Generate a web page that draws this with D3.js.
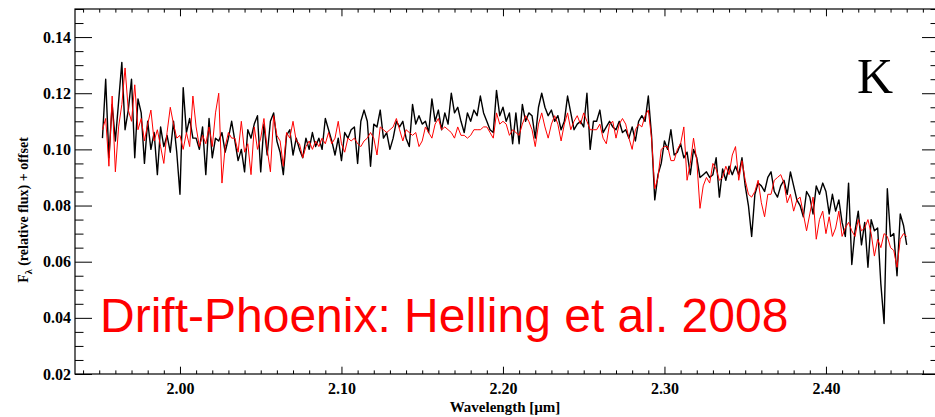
<!DOCTYPE html>
<html>
<head>
<meta charset="utf-8">
<script src="https://cdn.jsdelivr.net/npm/d3@7"></script>
<style>
  html, body { margin: 0; padding: 0; background: #fff; }
  svg { display: block; }
</style>
</head>
<body>
<svg id="chart" width="935" height="417"></svg>
<script>
// Wavelength grid of the K-band spectra [µm]
const wavelengths = [
  1.952,1.954,1.956,1.958,1.960,1.962,1.964,1.966,1.968,1.970,
  1.972,1.974,1.976,1.978,1.980,1.982,1.984,1.986,1.988,1.990,
  1.992,1.994,1.996,1.998,2.000,2.002,2.004,2.006,2.008,2.010,
  2.012,2.014,2.016,2.018,2.020,2.022,2.024,2.026,2.028,2.030,
  2.032,2.034,2.036,2.038,2.040,2.042,2.044,2.046,2.048,2.050,
  2.052,2.054,2.056,2.058,2.060,2.062,2.064,2.066,2.068,2.070,
  2.072,2.074,2.076,2.078,2.080,2.082,2.084,2.086,2.088,2.090,
  2.092,2.094,2.096,2.098,2.100,2.102,2.104,2.106,2.108,2.110,
  2.112,2.114,2.116,2.118,2.120,2.122,2.124,2.126,2.128,2.130,
  2.132,2.134,2.136,2.138,2.140,2.142,2.144,2.146,2.148,2.150,
  2.152,2.154,2.156,2.158,2.160,2.162,2.164,2.166,2.168,2.170,
  2.172,2.174,2.176,2.178,2.180,2.182,2.184,2.186,2.188,2.190,
  2.192,2.194,2.196,2.198,2.200,2.202,2.204,2.206,2.208,2.210,
  2.212,2.214,2.216,2.218,2.220,2.222,2.224,2.226,2.228,2.230,
  2.232,2.234,2.236,2.238,2.240,2.242,2.244,2.246,2.248,2.250,
  2.252,2.254,2.256,2.258,2.260,2.262,2.264,2.266,2.268,2.270,
  2.272,2.274,2.276,2.278,2.280,2.282,2.284,2.286,2.288,2.290,
  2.292,2.294,2.296,2.298,2.300,2.302,2.304,2.306,2.308,2.310,
  2.312,2.314,2.316,2.318,2.320,2.322,2.324,2.326,2.328,2.330,
  2.332,2.334,2.336,2.338,2.340,2.342,2.344,2.346,2.348,2.350,
  2.352,2.354,2.356,2.358,2.360,2.362,2.364,2.366,2.368,2.370,
  2.372,2.374,2.376,2.378,2.380,2.382,2.384,2.386,2.388,2.390,
  2.392,2.394,2.396,2.398,2.400,2.402,2.404,2.406,2.408,2.410,
  2.412,2.414,2.416,2.418,2.420,2.422,2.424,2.426,2.428,2.430,
  2.432,2.434,2.436,2.438,2.440,2.442,2.444,2.446,2.448,2.450
];

// Observed spectrum, F_lambda (relative flux) + offset
const observedFlux = [
  0.104,0.125,0.097,0.116,0.103,0.117,0.131,0.107,0.114,0.125,
  0.097,0.118,0.113,0.095,0.110,0.100,0.106,0.091,0.108,0.101,
  0.105,0.099,0.110,0.099,0.084,0.122,0.106,0.111,0.104,0.104,
  0.100,0.108,0.091,0.111,0.097,0.104,0.103,0.106,0.099,0.104,
  0.110,0.103,0.096,0.100,0.092,0.107,0.104,0.109,0.112,0.092,
  0.109,0.098,0.110,0.113,0.103,0.099,0.091,0.105,0.107,0.098,
  0.104,0.100,0.097,0.104,0.100,0.106,0.101,0.104,0.100,0.111,
  0.107,0.103,0.098,0.104,0.096,0.106,0.104,0.107,0.108,0.095,
  0.110,0.114,0.110,0.094,0.109,0.108,0.114,0.104,0.106,0.100,
  0.104,0.110,0.108,0.110,0.104,0.101,0.116,0.109,0.112,0.109,
  0.110,0.106,0.118,0.110,0.114,0.107,0.113,0.109,0.120,0.113,
  0.115,0.110,0.106,0.113,0.110,0.114,0.112,0.119,0.113,0.110,
  0.107,0.106,0.121,0.112,0.115,0.110,0.113,0.102,0.113,0.102,
  0.116,0.110,0.113,0.112,0.104,0.115,0.120,0.115,0.112,0.114,
  0.110,0.112,0.107,0.110,0.119,0.113,0.107,0.109,0.110,0.108,
  0.120,0.100,0.110,0.110,0.114,0.106,0.108,0.110,0.108,0.107,
  0.110,0.106,0.107,0.104,0.108,0.103,0.110,0.112,0.110,0.119,
  0.105,0.082,0.091,0.095,0.103,0.100,0.107,0.098,0.099,0.102,
  0.097,0.099,0.091,0.100,0.097,0.090,0.091,0.092,0.090,0.091,
  0.097,0.083,0.093,0.089,0.094,0.091,0.094,0.091,0.097,0.087,
  0.080,0.069,0.084,0.088,0.087,0.085,0.090,0.092,0.085,0.083,
  0.087,0.089,0.084,0.092,0.087,0.082,0.080,0.076,0.085,0.083,
  0.077,0.087,0.084,0.088,0.085,0.077,0.084,0.078,0.082,0.074,
  0.069,0.088,0.059,0.071,0.078,0.066,0.074,0.058,0.075,0.071,
  0.072,0.052,0.038,0.086,0.069,0.070,0.055,0.077,0.073,0.066
];

// Drift-Phoenix model spectrum (Helling et al. 2008)
const modelFlux = [
  0.107,0.111,0.094,0.119,0.092,0.108,0.116,0.129,0.114,0.110,
  0.123,0.107,0.111,0.103,0.109,0.114,0.103,0.107,0.101,0.095,
  0.106,0.115,0.109,0.104,0.105,0.100,0.106,0.101,0.119,0.108,
  0.101,0.105,0.102,0.108,0.101,0.113,0.120,0.088,0.101,0.106,
  0.104,0.104,0.099,0.110,0.099,0.102,0.091,0.108,0.100,0.104,
  0.111,0.100,0.092,0.112,0.105,0.103,0.094,0.106,0.104,0.110,
  0.103,0.102,0.097,0.101,0.103,0.100,0.103,0.101,0.104,0.102,
  0.106,0.102,0.104,0.110,0.102,0.099,0.104,0.103,0.104,0.102,
  0.101,0.103,0.104,0.106,0.104,0.098,0.108,0.107,0.106,0.107,
  0.108,0.111,0.107,0.103,0.107,0.106,0.105,0.106,0.101,0.103,
  0.108,0.106,0.104,0.109,0.111,0.107,0.108,0.107,0.106,0.104,
  0.108,0.105,0.105,0.104,0.105,0.107,0.107,0.107,0.108,0.108,
  0.106,0.104,0.113,0.109,0.110,0.109,0.105,0.107,0.106,0.105,
  0.109,0.112,0.110,0.107,0.101,0.109,0.113,0.108,0.104,0.109,
  0.112,0.109,0.103,0.109,0.113,0.107,0.110,0.112,0.109,0.113,
  0.110,0.107,0.107,0.107,0.109,0.104,0.102,0.109,0.110,0.104,
  0.109,0.111,0.109,0.104,0.100,0.107,0.109,0.108,0.112,0.114,
  0.104,0.086,0.090,0.100,0.101,0.101,0.096,0.096,0.100,0.102,
  0.108,0.089,0.095,0.104,0.096,0.079,0.087,0.090,0.088,0.095,
  0.093,0.089,0.090,0.094,0.091,0.098,0.101,0.089,0.096,0.089,
  0.084,0.083,0.085,0.089,0.081,0.076,0.084,0.084,0.089,0.090,
  0.091,0.088,0.081,0.084,0.078,0.082,0.083,0.077,0.071,0.077,
  0.083,0.068,0.075,0.078,0.070,0.076,0.069,0.072,0.078,0.069,
  0.072,0.074,0.071,0.069,0.075,0.071,0.072,0.075,0.070,0.062,
  0.068,0.065,0.070,0.069,0.065,0.064,0.058,0.068,0.070,0.069
];

const xTickValues = [2.00, 2.10, 2.20, 2.30, 2.40];
const yTickValues = [0.02, 0.04, 0.06, 0.08, 0.10, 0.12, 0.14];
const bandLabel = "K";
const modelLabel = "Drift-Phoenix: Helling et al. 2008";

const svg = d3.select("#chart");

// Plot frame (the right edge sits just past the page edge)
const frame = { left: 75, right: 939, top: 9, bottom: 374 };
const x = d3.scaleLinear().domain([1.935, 2.47]).range([frame.left, frame.right]);
const y = d3.scaleLinear().domain([0.02, 0.15]).range([frame.bottom, frame.top]);

const serif = "'Liberation Serif', 'Times New Roman', serif";
const majorX = 7.3, minorX = 3.6, majorY = 17, minorY = 8.5;

const xMinor = d3.range(194, 247).map(v => v / 100).filter(v => !xTickValues.some(t => Math.abs(t - v) < 1e-9));
const yMinor = d3.range(4, 31).map(v => v / 200).filter(v => !yTickValues.some(t => Math.abs(t - v) < 1e-9));

function styleAxis(g) {
  g.select(".domain").remove();
  g.selectAll(".tick line").attr("stroke", "#000").attr("stroke-width", 1);
  g.selectAll(".tick text")
    .attr("fill", "#000")
    .style("font-family", serif)
    .style("font-weight", "bold")
    .style("font-size", "16px");
}

// Bottom axis
svg.append("g").attr("transform", `translate(0,${frame.bottom})`)
  .call(d3.axisBottom(x).tickValues(xTickValues).tickSizeInner(-majorX).tickSizeOuter(0)
    .tickPadding(9).tickFormat(d3.format(".2f")))
  .call(styleAxis);
svg.append("g").attr("transform", `translate(0,${frame.bottom})`)
  .call(d3.axisBottom(x).tickValues(xMinor).tickSizeInner(-minorX).tickSizeOuter(0).tickFormat(""))
  .call(styleAxis);

// Top axis
svg.append("g").attr("transform", `translate(0,${frame.top})`)
  .call(d3.axisTop(x).tickValues(xTickValues).tickSizeInner(-majorX).tickSizeOuter(0).tickFormat(""))
  .call(styleAxis);
svg.append("g").attr("transform", `translate(0,${frame.top})`)
  .call(d3.axisTop(x).tickValues(xMinor).tickSizeInner(-minorX).tickSizeOuter(0).tickFormat(""))
  .call(styleAxis);

// Left axis
svg.append("g").attr("transform", `translate(${frame.left},0)`)
  .call(d3.axisLeft(y).tickValues(yTickValues).tickSizeInner(-majorY).tickSizeOuter(0)
    .tickPadding(4).tickFormat(d3.format(".2f")))
  .call(styleAxis);
svg.append("g").attr("transform", `translate(${frame.left},0)`)
  .call(d3.axisLeft(y).tickValues(yMinor).tickSizeInner(-minorY).tickSizeOuter(0).tickFormat(""))
  .call(styleAxis);

// Right axis
svg.append("g").attr("transform", `translate(${frame.right},0)`)
  .call(d3.axisRight(y).tickValues(yTickValues).tickSizeInner(-majorY).tickSizeOuter(0).tickFormat(""))
  .call(styleAxis);
svg.append("g").attr("transform", `translate(${frame.right},0)`)
  .call(d3.axisRight(y).tickValues(yMinor).tickSizeInner(-minorY).tickSizeOuter(0).tickFormat(""))
  .call(styleAxis);

// Frame
svg.append("rect")
  .attr("x", frame.left).attr("y", frame.top)
  .attr("width", frame.right - frame.left).attr("height", frame.bottom - frame.top)
  .attr("fill", "none").attr("stroke", "#000").attr("stroke-width", 1.2);

// Spectra
const line = d3.line()
  .x((d, i) => x(wavelengths[i]))
  .y(d => y(d));

svg.append("path").datum(observedFlux)
  .attr("d", line).attr("fill", "none")
  .attr("stroke", "#000").attr("stroke-width", 1.4).attr("stroke-linejoin", "round");

svg.append("path").datum(modelFlux)
  .attr("d", line).attr("fill", "none")
  .attr("stroke", "#ff0000").attr("stroke-width", 1).attr("stroke-linejoin", "round");

// Axis titles
svg.append("text")
  .attr("x", 505).attr("y", 412)
  .attr("text-anchor", "middle")
  .style("font-family", serif).style("font-weight", "bold").style("font-size", "15px")
  .text("Wavelength [µm]");

const yTitle = svg.append("text")
  .attr("transform", "translate(28,210) rotate(-90)")
  .attr("text-anchor", "middle")
  .style("font-family", serif).style("font-weight", "bold").style("font-size", "14px");
yTitle.append("tspan").text("F");
yTitle.append("tspan").attr("dy", 4).style("font-size", "10px").text("λ");
yTitle.append("tspan").attr("dy", -4).text(" (relative flux) + offset");

// Band label
svg.append("text")
  .attr("x", 875).attr("y", 93)
  .attr("text-anchor", "middle")
  .style("font-family", serif).style("font-size", "50px")
  .text(bandLabel);

// Model credit
svg.append("text")
  .attr("x", 100).attr("y", 332)
  .attr("fill", "#ff0000")
  .style("font-family", "'Liberation Sans', Arial, sans-serif").style("font-size", "48px")
  .text(modelLabel);
</script>
</body>
</html>
